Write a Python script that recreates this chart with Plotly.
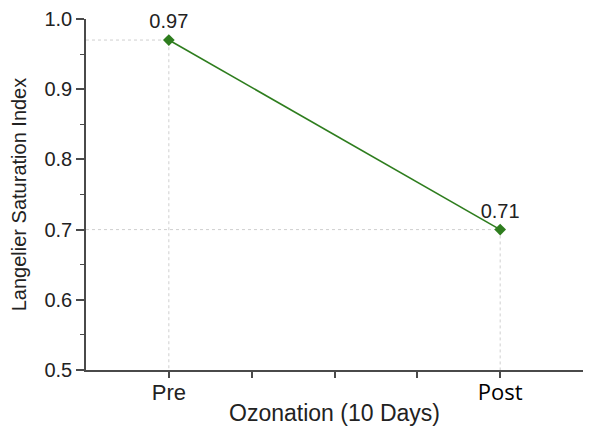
import plotly.graph_objects as go

categories = ["Pre", "Post"]
x_pos = [1, 5]
lsi_values = [0.97, 0.70]
value_labels = ["0.97", "0.71"]
x_tick_vals = [1, 2, 3, 4, 5]
x_tick_text = ["Pre", "", "", "", "<span style='font-family:Open Sans;font-size:22px;color:#000'>Post</span>"]
y_tick_vals = [0.5, 0.6, 0.7, 0.8, 0.9, 1.0]

green = "#2e7d1e"
grid = "#cfcfcf"
axis_col = "#4a4a4a"

fig = go.Figure()

# dotted guide lines
for xv, yv in zip(x_pos, lsi_values):
    fig.add_trace(go.Scatter(x=[0, xv, xv], y=[yv, yv, 0.5], mode="lines",
                             line=dict(color=grid, width=1, dash="dot"),
                             hoverinfo="skip", showlegend=False))

fig.add_trace(go.Scatter(
    x=x_pos, y=lsi_values, mode="lines+markers+text",
    line=dict(color=green, width=1.6),
    marker=dict(symbol="diamond", size=9, color=green),
    text=value_labels, textposition="top center",
    textfont=dict(family="Arial, Liberation Sans", size=20, color="#222"),
    showlegend=False, cliponaxis=False))

# page body has an 8px margin, so the figure is 8px smaller than the window
fig.update_layout(
    width=585, height=424,
    margin=dict(l=78, r=10, t=11, b=62, autoexpand=False),
    paper_bgcolor="white", plot_bgcolor="white",
    font=dict(family="Arial, Liberation Sans", size=20, color="#222"),
)
fig.update_xaxes(
    range=[0, 6], tickvals=x_tick_vals, ticktext=x_tick_text,
    showline=True, linecolor=axis_col, linewidth=1.5,
    ticks="outside", ticklen=6, tickcolor=axis_col, tickwidth=1.5,
    showgrid=False, zeroline=False, automargin=False,
    ticklabelstandoff=-4,
    tickfont=dict(size=22, color="#222"),
    title=dict(text="Ozonation (10 Days)", font=dict(size=23), standoff=0),
)
fig.update_yaxes(
    range=[0.5, 1.0], tickvals=y_tick_vals, tickformat=".1f",
    showline=True, linecolor=axis_col, linewidth=1.5,
    ticks="outside", ticklen=8, tickcolor=axis_col, tickwidth=1.5,
    minor=dict(dtick=0.05, ticks="outside", ticklen=4, tickcolor=axis_col, tickwidth=1.2),
    showgrid=False, zeroline=False, automargin=False,
    tickfont=dict(size=20),
    title=dict(text="Langelier Saturation Index", font=dict(size=20), standoff=15),
)

fig.write_html("out.html")
